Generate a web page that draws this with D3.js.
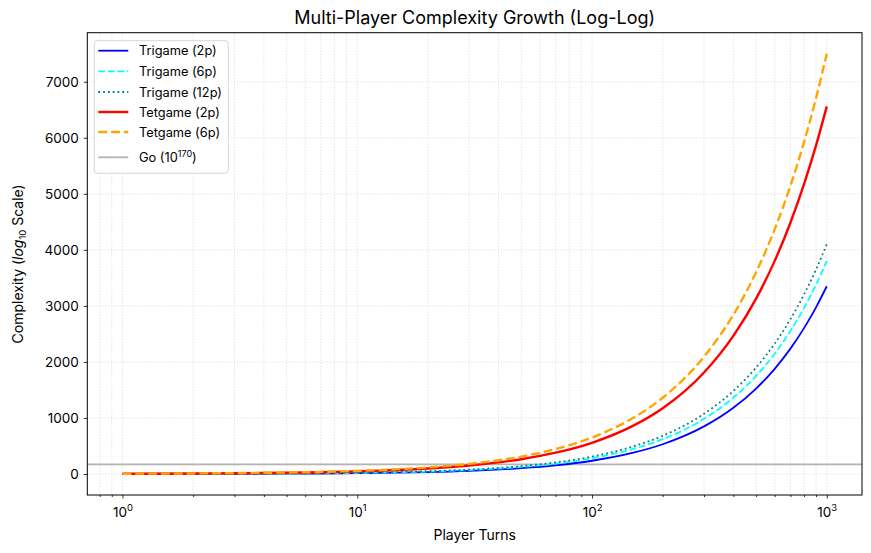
<!DOCTYPE html>
<html>
<head>
<meta charset="utf-8">
<script src="https://cdn.jsdelivr.net/npm/d3@7"></script>
<style>
  html, body { margin: 0; padding: 0; background: #fff; }
  svg { display: block; font-family: Inter, "Open Sans", sans-serif; }
</style>
</head>
<body>
<svg id="chart" width="871" height="553"></svg>
<script>
// ── data ──
const turns      = [1, 2, 3, 5, 7, 10, 15, 20, 30, 50, 70, 100, 150, 200, 300, 400, 500, 600, 700, 800, 900, 1000];
const trigame2   = [1, 2, 3, 6, 9, 14, 24, 34, 56, 104, 155, 236, 380, 531, 849, 1182, 1525, 1877, 2237, 2603, 2974, 3350];
const trigame6   = [1, 3, 4, 8, 12, 19, 31, 43, 69, 126, 186, 281, 448, 621, 984, 1362, 1750, 2147, 2552, 2963, 3379, 3800];
const trigame12  = [2, 3, 5, 10, 14, 22, 35, 49, 78, 141, 207, 311, 493, 681, 1074, 1482, 1900, 2327, 2762, 3203, 3649, 4100];
const tetgame2   = [4, 8, 13, 22, 32, 46, 72, 98, 152, 264, 380, 557, 862, 1173, 1812, 2466, 3130, 3803, 4484, 5171, 5863, 6560];
const tetgame6   = [5, 10, 16, 27, 38, 56, 86, 117, 180, 311, 445, 651, 1003, 1361, 2094, 2842, 3600, 4367, 5142, 5923, 6709, 7500];
const goLevel    = 170;
const yTicks     = [0, 1000, 2000, 3000, 4000, 5000, 6000, 7000];
const xMajor     = [1, 10, 100, 1000];

const series = [
    { name: "Trigame (2p)",  vals: trigame2,  color: "#0000ff", w: 1.8, dash: null },
    { name: "Trigame (6p)",  vals: trigame6,  color: "#00ffff", w: 1.8, dash: "6.7,2.9" },
    { name: "Trigame (12p)", vals: trigame12, color: "#008080", w: 1.8, dash: "1.8,3" },
    { name: "Tetgame (2p)",  vals: tetgame2,  color: "#ff0000", w: 2.4, dash: null },
    { name: "Tetgame (6p)",  vals: tetgame6,  color: "#ffa500", w: 2.4, dash: "8.9,3.9" },
];

const svg = d3.select("#chart");
const L = 87.3, R = 862, T = 32.7, B = 495;

// matplotlib-style 5% margins (log space on x)
const lx0 = Math.log10(d3.min(turns)), lx1 = Math.log10(d3.max(turns));
const padX = (lx1 - lx0) * 0.05;
const x = d3.scaleLog().domain([10 ** (lx0 - padX), 10 ** (lx1 + padX)]).range([L, R]);
const allY = series.flatMap(s => s.vals);
const y0 = Math.min(0, d3.min(allY)), y1 = d3.max(allY);
const padY = (y1 - y0) * 0.05;
const y = d3.scaleLinear().domain([y0 - padY, y1 + padY]).range([B, T]);

// minor ticks 2..9 per decade
const xMinor = [];
[1, 10, 100].forEach(d => { for (let k = 2; k <= 9; k++) xMinor.push(d * k); });
[0.8, 0.9, 2000].forEach(v => { if (v >= x.domain()[0] && v <= x.domain()[1]) xMinor.push(v); });

// ─── grid ───
const grid = svg.append("g").attr("stroke", "#cfcfcf").attr("stroke-width", 0.8)
    .attr("stroke-dasharray", "1,2");
xMajor.concat(xMinor).forEach(v => {
    grid.append("line").attr("x1", x(v)).attr("x2", x(v)).attr("y1", T).attr("y2", B);
});
yTicks.forEach(v => {
    grid.append("line").attr("x1", L).attr("x2", R).attr("y1", y(v)).attr("y2", y(v));
});

// ─── Go reference ───
svg.append("line")
    .attr("x1", L).attr("x2", R).attr("y1", y(goLevel)).attr("y2", y(goLevel))
    .attr("stroke", "#b3b3b3").attr("stroke-width", 1.8);

// ─── series ───
const line = d3.line().x((d, i) => x(turns[i])).y(d => y(d)).curve(d3.curveMonotoneX);
series.forEach(s => {
    svg.append("path").datum(s.vals).attr("d", line)
        .attr("fill", "none").attr("stroke", s.color).attr("stroke-width", s.w)
        .attr("stroke-dasharray", s.dash);
});

// ─── axes ───
const fontTick = 13.5;
const xAx = svg.append("g").attr("transform", `translate(0,${B})`)
    .call(d3.axisBottom(x).tickValues(xMajor).tickSize(3.5).tickFormat(""));
const xMin = svg.append("g").attr("transform", `translate(0,${B})`)
    .call(d3.axisBottom(x).tickValues(xMinor).tickSize(2).tickFormat(""));
xMin.select(".domain").remove();
xAx.selectAll(".tick").append("text")
    .attr("y", 22).attr("text-anchor", "middle").attr("fill", "#000")
    .attr("font-size", fontTick)
    .each(function (d) {
        const t = d3.select(this);
        t.append("tspan").text("10");
        t.append("tspan").attr("dy", -6).attr("font-size", fontTick * 0.7).text(Math.round(Math.log10(d)));
    });

const yAx = svg.append("g").attr("transform", `translate(${L},0)`)
    .call(d3.axisLeft(y).tickValues(yTicks).tickSize(3.5).tickPadding(5).tickFormat(d3.format("d")));
yAx.selectAll("text").attr("font-size", fontTick).attr("fill", "#000");

[xAx, xMin, yAx].forEach(a => {
    a.selectAll(".tick line").attr("stroke", "#000").attr("stroke-width", 0.8);
    a.attr("font-family", null);
});
xAx.select(".domain").remove();
yAx.select(".domain").remove();

// frame
svg.append("rect").attr("x", L).attr("y", T).attr("width", R - L).attr("height", B - T)
    .attr("fill", "none").attr("stroke", "#000").attr("stroke-width", 1);

// ─── labels ───
svg.append("text").attr("x", (L + R) / 2).attr("y", 24).attr("text-anchor", "middle")
    .attr("font-size", 18).text("Multi-Player Complexity Growth (Log-Log)");
svg.append("text").attr("x", (L + R) / 2).attr("y", 540).attr("text-anchor", "middle")
    .attr("font-size", 14).text("Player Turns");
const yl = svg.append("text").attr("transform", `translate(23,${(T + B) / 2}) rotate(-90)`)
    .attr("text-anchor", "middle").attr("font-size", 14);
yl.append("tspan").text("Complexity (");
yl.append("tspan").attr("font-style", "italic").text("log");
yl.append("tspan").attr("dy", 3).attr("font-size", 9.5).text("10");
yl.append("tspan").attr("dy", -3).text(" Scale)");

// ─── legend ───
const lg = svg.append("g");
lg.append("rect").attr("x", 94.3).attr("y", 40.7).attr("width", 134).attr("height", 132.6)
    .attr("rx", 3).attr("fill", "#fff").attr("fill-opacity", 0.8)
    .attr("stroke", "#d6d6d6").attr("stroke-width", 1);
const rowY = [50.7, 71.3, 92, 112, 132];
series.forEach((s, i) => {
    lg.append("line").attr("x1", 98.3).attr("x2", 128.3).attr("y1", rowY[i]).attr("y2", rowY[i])
        .attr("stroke", s.color).attr("stroke-width", s.w).attr("stroke-dasharray", s.dash);
    lg.append("text").attr("x", 139).attr("y", rowY[i] + 4.6).attr("font-size", 12.8).text(s.name);
});
lg.append("line").attr("x1", 98.3).attr("x2", 128.3).attr("y1", 157.3).attr("y2", 157.3)
    .attr("stroke", "#b3b3b3").attr("stroke-width", 1.8);
const gt = lg.append("text").attr("x", 139).attr("y", 162).attr("font-size", 12.8);
gt.append("tspan").text("Go (10");
gt.append("tspan").attr("dy", -5).attr("font-size", 9).text(goLevel);
gt.append("tspan").attr("dy", 5).text(")");
</script>
</body>
</html>
